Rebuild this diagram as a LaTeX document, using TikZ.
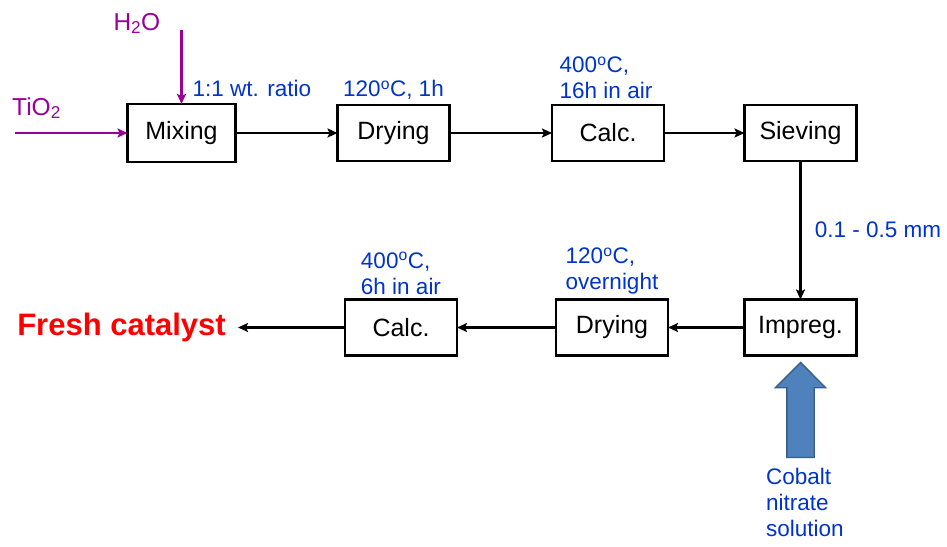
\documentclass[tikz,border=0pt]{standalone}
\usepackage{fontspec}
\setmainfont{Liberation Sans}
\usepackage{xcolor}
\usetikzlibrary{arrows.meta,positioning,shapes.arrows}
\definecolor{condblue}{RGB}{0,51,204}
\definecolor{feedpurple}{RGB}{153,0,153}
\definecolor{freshred}{RGB}{255,0,0}
\definecolor{solfill}{RGB}{79,129,189}
\definecolor{soledge}{RGB}{56,93,138}
\tikzset{
  procbox/.style = {
    rectangle,
    draw,
    line width=2.4pt,
    outer sep=0pt,
    align=center,
    minimum width=112pt,
    minimum height=56pt,
    font=\fontsize{25}{30}\selectfont
  },
  condlabel/.style = {
    text=condblue,
    align=left,
    inner sep=1pt,
    font=\fontsize{22.5}{26}\selectfont
  },
  feedlabel/.style = {
    text=feedpurple,
    inner sep=0pt,
    font=\fontsize{24.5}{28}\selectfont
  },
  flowarrow/.style = {
    -{Stealth[length=10pt,width=9pt,inset=2pt]},
    line width=2.6pt
  },
  feedarrow/.style = {
    flowarrow,
    draw=feedpurple,
    -{Stealth[length=10pt,width=9pt,inset=2pt,feedpurple]}
  }
}
\begin{document}
\begin{tikzpicture}[x=1pt, y=-1pt]
    \useasboundingbox (0,0) rectangle (947,546);
    \node[procbox, minimum height=58pt, minimum width=108pt] (mixing) at (181.5,133) {Mixing};
    \node[procbox, right=102pt of mixing] (drying1) {Drying};
    \node[procbox, right=102.5pt of drying1] (calc1) {Calc.};
    \node[procbox, right=80.5pt of calc1] (sieving) {Sieving};
    \node[procbox, below=138.5pt of sieving] (impreg) {Impreg.};
    \node[procbox, left=76.5pt of impreg] (drying2) {Drying};
    \node[procbox, left=99pt of drying2] (calc2) {Calc.};
    \node[text=freshred, inner xsep=12pt, font=\fontsize{31}{34}\selectfont\bfseries,
      left=0pt of calc2, xshift=-107pt] (fresh) {Fresh catalyst};
    \coordinate (tio2start) at (15,133);
    \coordinate (h2ostart) at (181.5,30);
    \node[feedlabel, anchor=base west] (tio2) at (12,115) {TiO\textsubscript{2}};
    \node[feedlabel, anchor=base east] (h2o) at ([xshift=-21pt]h2ostart) {H\textsubscript{2}O};
    \node[condlabel, anchor=south west] (ratio) at ([xshift=10pt,yshift=6pt]mixing.north) {1:1 wt. ratio};
    \node[condlabel, above=4pt of drying1] (dry1cond) {120\textsuperscript{o}C, 1h};
    \node[condlabel, above=5pt of calc1, xshift=-2pt] (calc1cond) {400\textsuperscript{o}C,\\16h in air};
    \node[condlabel, above=4pt of drying2] (dry2cond) {120\textsuperscript{o}C,\\overnight};
    \node[condlabel, above=4pt of calc2] (calc2cond) {400\textsuperscript{o}C,\\6h in air};
    \node[single arrow, draw=soledge, fill=solfill, line width=1.4pt, rotate=90,
      inner sep=13pt, minimum height=95pt, minimum width=49pt,
      single arrow head extend=11.5pt, single arrow tip angle=90,
      below=6pt of impreg, anchor=east] (cobaltarrow) {};
    \node[condlabel, anchor=north west, inner sep=0pt] (cobalt) at (766,468) {Cobalt\\nitrate\\solution};
    \draw[feedarrow] (tio2start) -- (mixing.west);
    \draw[feedarrow] (h2ostart) -- (mixing.north);
    \draw[flowarrow] (mixing) -- (drying1);
    \draw[flowarrow] (drying1) -- (calc1);
    \draw[flowarrow] (calc1) -- (sieving);
    \draw[flowarrow] (sieving) -- node[condlabel, right=12pt] {0.1 - 0.5 mm} (impreg);
    \draw[flowarrow] (impreg) -- (drying2);
    \draw[flowarrow] (drying2) -- (calc2);
    \draw[flowarrow] (calc2) -- (fresh);
\end{tikzpicture}
\end{document}
